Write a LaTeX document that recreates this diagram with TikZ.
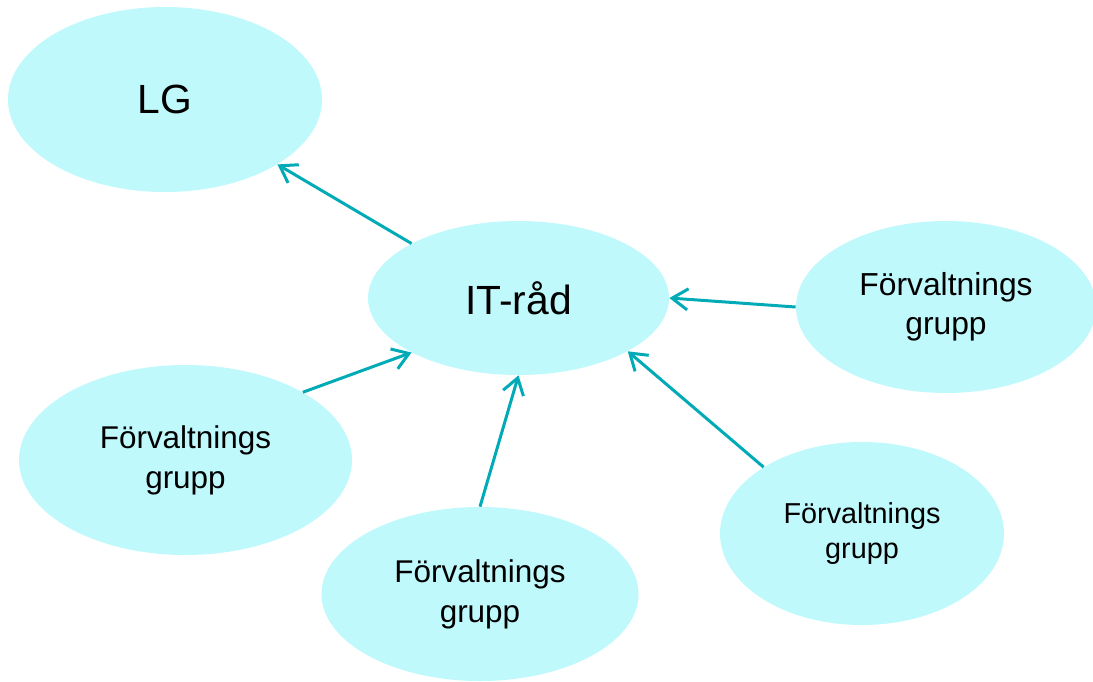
\documentclass[tikz,border=0pt]{standalone}
\usepackage{fontspec}
\setmainfont{Liberation Sans}
\usetikzlibrary{shapes.geometric,arrows.meta}
\definecolor{blobfill}{RGB}{191,249,252}
\definecolor{pilcol}{RGB}{0,170,182}

\begin{document}
\begin{tikzpicture}[
    blob/.style={ellipse,fill=blobfill,inner sep=0pt,align=center},
    stor/.style={blob,font=\fontsize{23.2}{28}\selectfont},
    grp/.style={blob,font=\fontsize{17.9}{22.6}\selectfont},
    pil/.style={pilcol,line width=1.7pt,-{Straight Barb[length=9pt,width=12pt]}}]
    \useasboundingbox (0,0) rectangle (21.86,-13.62);

    % ellipses
    \node[stor,minimum width=6.28cm,minimum height=3.70cm] (lg) at (3.30,-1.99) {LG};
    \node[stor,minimum width=6.02cm,minimum height=3.08cm] (it) at (10.37,-5.96) {IT-råd};
    \node[grp,font=\fontsize{18.1}{22.1}\selectfont,minimum width=6.00cm,minimum height=3.44cm]
        (fr) at (18.92,-6.14) {Förvaltnings\\grupp};
    \node[grp,minimum width=6.66cm,minimum height=3.80cm] (fl) at (3.71,-9.20) {Förvaltnings\\grupp};
    \node[grp,minimum width=6.34cm,minimum height=3.48cm] (fb) at (9.60,-11.88) {Förvaltnings\\grupp};
    \node[grp,font=\fontsize{16.4}{20.4}\selectfont,minimum width=5.68cm,minimum height=3.66cm]
        (fbr) at (17.24,-10.67) {Förvaltnings\\grupp};

    % arrows
    \draw[pil] (it.153) -- (lg.330);
    \draw[pil] (fr.west) -- (it.east);
    \draw[pil] (fl.30) -- (it.207);
    \draw[pil] (fb.north) -- (it.south);
    \draw[pil] (fbr.146) -- (it.334);
\end{tikzpicture}
\end{document}
